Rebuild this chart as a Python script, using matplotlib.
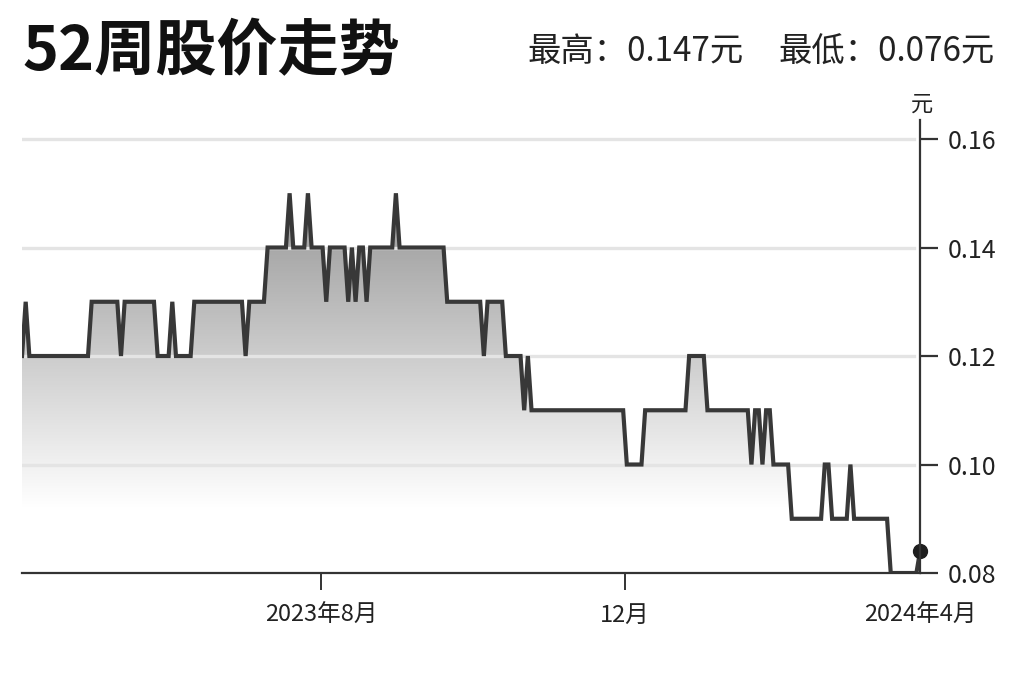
import numpy as np
import matplotlib
matplotlib.use("Agg")
import matplotlib.pyplot as plt
from matplotlib.colors import LinearSegmentedColormap

plt.rcParams['font.family'] = ['Noto Sans CJK SC', 'DejaVu Sans']

# ---- data (daily closing prices over 52 weeks) ----
prices = [
    0.12, 0.13, 0.12, 0.12, 0.12, 0.12, 0.12, 0.12, 0.12, 0.12,
    0.12, 0.12, 0.12, 0.12, 0.12, 0.12, 0.12, 0.12, 0.12, 0.13,
    0.13, 0.13, 0.13, 0.13, 0.13, 0.13, 0.13, 0.12, 0.13, 0.13,
    0.13, 0.13, 0.13, 0.13, 0.13, 0.13, 0.13, 0.12, 0.12, 0.12,
    0.12, 0.13, 0.12, 0.12, 0.12, 0.12, 0.12, 0.13, 0.13, 0.13,
    0.13, 0.13, 0.13, 0.13, 0.13, 0.13, 0.13, 0.13, 0.13, 0.13,
    0.13, 0.12, 0.13, 0.13, 0.13, 0.13, 0.13, 0.14, 0.14, 0.14,
    0.14, 0.14, 0.14, 0.15, 0.14, 0.14, 0.14, 0.14, 0.15, 0.14,
    0.14, 0.14, 0.14, 0.13, 0.14, 0.14, 0.14, 0.14, 0.14, 0.13,
    0.14, 0.13, 0.14, 0.14, 0.13, 0.14, 0.14, 0.14, 0.14, 0.14,
    0.14, 0.14, 0.15, 0.14, 0.14, 0.14, 0.14, 0.14, 0.14, 0.14,
    0.14, 0.14, 0.14, 0.14, 0.14, 0.14, 0.13, 0.13, 0.13, 0.13,
    0.13, 0.13, 0.13, 0.13, 0.13, 0.13, 0.12, 0.13, 0.13, 0.13,
    0.13, 0.13, 0.12, 0.12, 0.12, 0.12, 0.12, 0.11, 0.12, 0.11,
    0.11, 0.11, 0.11, 0.11, 0.11, 0.11, 0.11, 0.11, 0.11, 0.11,
    0.11, 0.11, 0.11, 0.11, 0.11, 0.11, 0.11, 0.11, 0.11, 0.11,
    0.11, 0.11, 0.11, 0.11, 0.11, 0.10, 0.10, 0.10, 0.10, 0.10,
    0.11, 0.11, 0.11, 0.11, 0.11, 0.11, 0.11, 0.11, 0.11, 0.11,
    0.11, 0.11, 0.12, 0.12, 0.12, 0.12, 0.12, 0.11, 0.11, 0.11,
    0.11, 0.11, 0.11, 0.11, 0.11, 0.11, 0.11, 0.11, 0.11, 0.10,
    0.11, 0.11, 0.10, 0.11, 0.11, 0.10, 0.10, 0.10, 0.10, 0.10,
    0.09, 0.09, 0.09, 0.09, 0.09, 0.09, 0.09, 0.09, 0.09, 0.10,
    0.10, 0.09, 0.09, 0.09, 0.09, 0.09, 0.10, 0.09, 0.09, 0.09,
    0.09, 0.09, 0.09, 0.09, 0.09, 0.09, 0.09, 0.08, 0.08, 0.08,
    0.08, 0.08, 0.08, 0.08, 0.08, 0.084,
]
# month label positions, in trading-day index units
xtick_pos = [81.6, 164.5, 245]
xtick_labels = ["2023年8月", "12月", "2024年4月"]
ytick_vals = [0.08, 0.10, 0.12, 0.14, 0.16]
ytick_labels = ["0.08", "0.10", "0.12", "0.14", "0.16"]
title_text = "52周股价走势"
high_text = "最高：0.147元"
low_text = "最低：0.076元"
unit_text = "元"

# ---- figure ----
fig = plt.figure(figsize=(10.24, 6.82), dpi=100)
fig.patch.set_facecolor("white")
ax = fig.add_axes([0.0215, 0.1598, 0.8770, 0.6642])

x = np.arange(len(prices))
y = np.array(prices)
y_lo, y_hi = 0.08, 0.1635
ax.set_xlim(0, len(prices) - 1)
ax.set_ylim(y_lo, y_hi)

# gradient fill clipped to area under the line
poly = ax.fill_between(x, y, y_lo, facecolor="none", edgecolor="none")
cmap = LinearSegmentedColormap.from_list("g", ["#ffffff", "#939393"])
rows = np.linspace(y_lo, y_hi, 400)
t = np.clip((rows - 0.092) / (0.152 - 0.092), 0, 1)
img = ax.imshow(t[:, None], extent=[0, len(prices) - 1, y_lo, y_hi],
                origin="lower", aspect="auto", cmap=cmap, vmin=0, vmax=1,
                interpolation="bilinear", zorder=1)
img.set_clip_path(poly.get_paths()[0], transform=ax.transData)

# gridlines
for v in ytick_vals[1:]:
    ax.axhline(v, color="#e4e4e4", lw=2.4, zorder=2, xmax=0.993)

# line
ax.plot(x, y, color="#383838", lw=3.0, zorder=3, solid_joinstyle="miter")
ax.plot(x[-1], y[-1], "o", color="#1e1e1e", ms=10, zorder=4, clip_on=False)

# spines
for s in ["left", "top"]:
    ax.spines[s].set_visible(False)
ax.spines["right"].set_color("#333333")
ax.spines["right"].set_linewidth(1.6)
ax.spines["bottom"].set_color("#333333")
ax.spines["bottom"].set_linewidth(1.6)
ax.spines["right"].set_zorder(5)
ax.spines["bottom"].set_zorder(5)

# y ticks on the right
ax.yaxis.tick_right()
ax.set_yticks(ytick_vals)
ax.set_yticklabels(ytick_labels)
ax.tick_params(axis="y", direction="out", length=13, width=1.6,
               color="#333333", pad=7, labelsize=18, labelcolor="#222222")

# x ticks
ax.set_xticks(xtick_pos)
ax.set_xticklabels(xtick_labels)
ax.tick_params(axis="x", direction="out", length=12, width=1.4,
               color="#333333", pad=10, labelsize=17, labelcolor="#222222")
ax.xaxis.get_major_ticks()[-1].tick1line.set_visible(False)

# texts
fig.text(22 / 1024, 1 - 52 / 682, title_text, fontsize=44, fontweight="bold",
         color="#111111", ha="left", va="center")
fig.text(527 / 1024, 1 - 52 / 682, high_text, fontsize=24,
         color="#222222", ha="left", va="center")
fig.text(995 / 1024, 1 - 52 / 682, low_text, fontsize=24,
         color="#222222", ha="right", va="center")
fig.text(922 / 1024, 1 - 104 / 682, unit_text, fontsize=16,
         color="#222222", ha="center", va="center")

fig.savefig("out.png", dpi=100, facecolor="white")
